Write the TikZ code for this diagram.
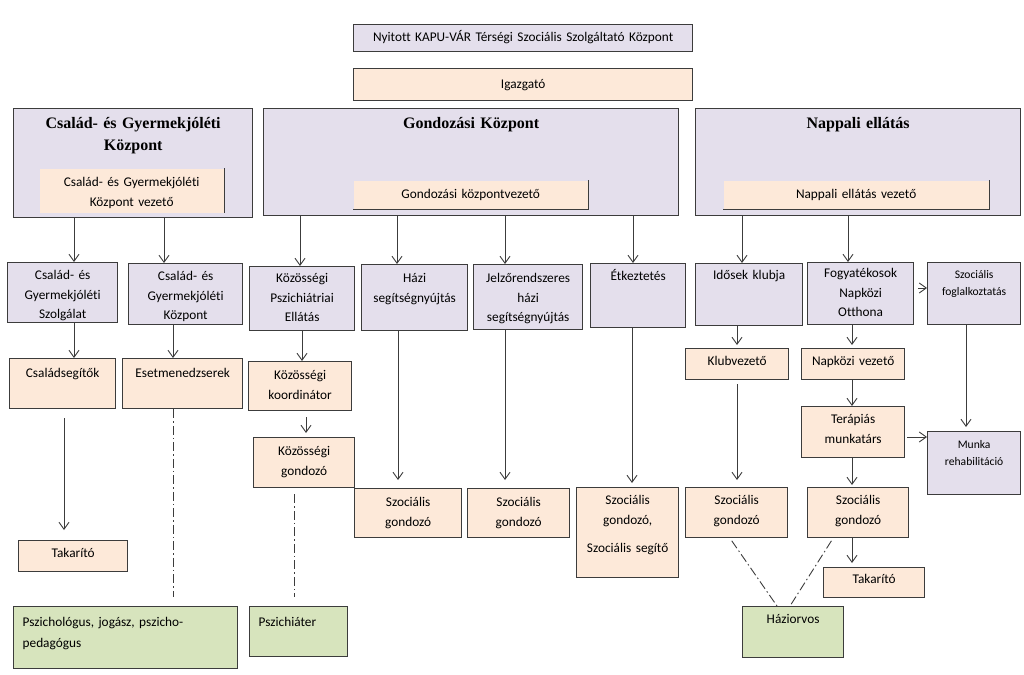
\documentclass[tikz,border=0pt]{standalone}
\usepackage{fontspec}
\setmainfont{Carlito}[Ligatures={NoCommon}]
\newfontfamily\tnr{Liberation Serif}
\usetikzlibrary{arrows.meta}
\definecolor{lav}{HTML}{E4DFEC}
\definecolor{peach}{HTML}{FDE9D9}
\definecolor{grn}{HTML}{D7E4BD}
\definecolor{edge}{HTML}{3C3C3C}
\newcommand{\txt}{\fontsize{13.3}{19.5}\selectfont}
\newcommand{\smalltxt}{\fontsize{11.6}{17}\selectfont}
\newcommand{\ttl}{\tnr\bfseries\fontsize{16}{22}\selectfont}
\tikzset{
  sz/.code n args={3}{\pgfmathsetmacro\bxdep{#2-#3}\tikzset{text width=#1pt, text height=#3pt, text depth=\bxdep pt}},
  unit/.style={anchor=north west, inner sep=0pt, align=center, font=\txt, draw=edge, line width=1.3pt},
  lavbox/.style={unit, fill=lav},
  peachbox/.style={unit, fill=peach},
  greenbox/.style={unit, fill=grn, align=left, inner xsep=9pt},
  headbox/.style={unit, draw=none, fill=peach},
  rim/.style={draw=edge, line width=1.3pt},
  arr/.style={draw=edge, line width=0.9pt, -{Straight Barb[length=7pt,width=10pt]}},
  dd/.style={draw=edge, line width=0.9pt, dash pattern=on 9pt off 3pt on 1.5pt off 3pt}
}

\begin{document}
\begin{tikzpicture}[x=1pt,y=-1pt]
\useasboundingbox (0,0) rectangle (1024,674);

% top
\node[lavbox, sz={339}{27}{17}] (kozpont) at (353,24) {Nyitott KAPU-VÁR Térségi Szociális Szolgáltató Központ};
\node[peachbox, sz={339}{32}{20}] (igaz) at (353,68) {Igazgató};

% three units
\node[lavbox, font=\ttl, sz={239}{109}{20}] (cgk) at (13,108) {Család- és Gyermekjóléti\\Központ};
\node[headbox, sz={184}{44}{18}] (cgkv) at (39,168) {Család- és Gyermekjóléti\\Központ vezető};
\draw[rim] (cgkv.north east) -- (cgkv.south east);

\node[lavbox, font=\ttl, sz={415}{107}{20}] (gk) at (263,108) {Gondozási Központ};
\node[headbox, sz={234}{28}{18}] (gkv) at (353,180) {Gondozási központvezető};
\draw[rim] (gkv.north east) -- (gkv.south east) -- (gkv.south west);

\node[lavbox, font=\ttl, sz={325}{107}{20}] (ne) at (695,108) {Nappali ellátás};
\node[headbox, sz={265}{28}{18}] (nev) at (723,180) {Nappali ellátás vezető};
\draw[rim] (nev.north east) -- (nev.south east) -- (nev.south west);

% services
\node[lavbox, sz={110}{60}{17}] (cgsz) at (7,262) {Család- és\\Gyermekjóléti\\Szolgálat};
\node[lavbox, sz={114}{61}{17}] (cgkp) at (128,263) {Család- és\\Gyermekjóléti\\Központ};
\node[lavbox, sz={105}{64}{16}] (kpe) at (249,266) {Közösségi\\Pszichiátriai\\Ellátás};
\node[lavbox, sz={106}{66}{18}] (hazi) at (361,264) {Házi\\segítségnyújtás};
\node[lavbox, sz={109}{65}{18}] (jelzo) at (473,264) {Jelzőrendszeres\\házi\\segítségnyújtás};
\node[lavbox, sz={95}{64}{17}] (etk) at (590,263) {Étkeztetés};
\node[lavbox, sz={107}{62}{16}] (idk) at (695,263) {Idősek klubja};
\node[lavbox, sz={106}{62}{15}] (fno) at (807,262) {Fogyatékosok\\Napközi\\Otthona};
\node[lavbox, font=\smalltxt, sz={93}{62}{16}] (szf) at (927,262) {Szociális\\foglalkoztatás};

% staff
\node[peachbox, sz={106}{50}{19}] (csseg) at (9,358) {Családsegítők};
\node[peachbox, sz={120}{50}{19}] (esetm) at (122,358) {Esetmenedzserek};
\node[peachbox, sz={103}{49}{18}] (kkoord) at (248,361) {Közösségi\\koordinátor};
\node[peachbox, sz={101}{50}{18}] (kgond) at (253,437) {Közösségi\\gondozó};
\node[peachbox, sz={109}{31}{17}] (tak1) at (18,540) {Takarító};
\node[peachbox, sz={107}{49}{18}] (szg1) at (354,488) {Szociális\\gondozó};
\node[peachbox, sz={102}{49}{18}] (szg2) at (467,488) {Szociális\\gondozó};
\node[peachbox, sz={102}{90}{17}] (szg3) at (576,487) {Szociális\\gondozó,\\[9pt]Szociális segítő};
\node[peachbox, sz={103}{31}{17}] (klubv) at (685,348) {Klubvezető};
\node[peachbox, sz={103}{31}{17}] (napv) at (801,348) {Napközi vezető};
\node[peachbox, sz={103}{51}{17}] (terap) at (801,406) {Terápiás\\munkatárs};
\node[lavbox, font=\smalltxt, sz={93}{63}{17}] (munka) at (927,431) {Munka\\rehabilitáció};
\node[peachbox, sz={102}{50}{17}] (szg4) at (685,487) {Szociális\\gondozó};
\node[peachbox, sz={101}{50}{17}] (szg5) at (807,487) {Szociális\\gondozó};
\node[peachbox, sz={101}{30}{16}] (tak2) at (823,567) {Takarító};

% outside partners
\node[greenbox, sz={206}{62}{20}, font=\fontsize{13.3}{21}\selectfont] (pszj) at (13,606) {Pszichológus, jogász, pszicho-\\pedagógus};
\node[greenbox, sz={80}{50}{20}] (pszi) at (249,606) {Pszichiáter};
\node[greenbox, align=center, inner xsep=0pt, sz={101}{51}{17}] (haziorv) at (742,606) {Háziorvos};

% arrows from the units
\draw[arr] (74,0 |- cgk.south) -- (74,0 |- cgsz.north);
\draw[arr] (164,0 |- cgk.south) -- (164,0 |- cgkp.north);
\draw[arr] (300,0 |- gk.south) -- (300,0 |- kpe.north);
\draw[arr] (397,0 |- gk.south) -- (397,0 |- hazi.north);
\draw[arr] (505,0 |- gk.south) -- (505,0 |- jelzo.north);
\draw[arr] (633,0 |- gk.south) -- (633,0 |- etk.north);
\draw[arr] (742,0 |- ne.south) -- (742,0 |- idk.north);
\draw[arr] (848,0 |- ne.south) -- (848,0 |- fno.north);
\draw[arr, shorten <=4pt] (fno.east |- 0,288) -- (szf.west |- 0,288);

% arrows to the staff
\draw[arr] (74,0 |- cgsz.south) -- (74,0 |- csseg.north);
\draw[arr] (173,0 |- cgkp.south) -- (173,0 |- esetm.north);
\draw[arr] (302,0 |- kpe.south) -- (302,0 |- kkoord.north);
\draw[arr, shorten <=6pt, shorten >=4pt] (306,0 |- kkoord.south) -- (306,0 |- kgond.north);
\draw[arr, shorten <=9pt, shorten >=10pt] (64,0 |- csseg.south) -- (64,0 |- tak1.north);
\draw[arr, shorten >=8pt] (398,0 |- hazi.south) -- (398,0 |- szg1.north);
\draw[arr, shorten >=8pt] (505,0 |- jelzo.south) -- (505,0 |- szg2.north);
\draw[arr, shorten >=4pt] (632,0 |- etk.south) -- (632,0 |- szg3.north);
\draw[arr, shorten >=3pt] (737,0 |- idk.south) -- (737,0 |- klubv.north);
\draw[arr, shorten >=3pt] (852,0 |- fno.south) -- (852,0 |- napv.north);
\draw[arr] (852,0 |- napv.south) -- (852,0 |- terap.north);
\draw[arr, shorten >=4pt] (966,0 |- szf.south) -- (966,0 |- munka.north);
\draw[arr, shorten <=2pt] (terap.east |- 0,437) -- (munka.west |- 0,437);
\draw[arr, shorten >=2pt] (852,0 |- terap.south) -- (852,0 |- szg5.north);
\draw[arr, shorten <=4pt, shorten >=7pt] (737,0 |- klubv.south) -- (737,0 |- szg4.north);
\draw[arr, shorten >=4pt] (852,0 |- szg5.south) -- (852,0 |- tak2.north);

% dash-dot links
\draw[dd, shorten >=9pt] (173,0 |- esetm.south) -- (173,0 |- pszj.north);
\draw[dd, shorten <=6pt, shorten >=9pt] (294,0 |- kgond.south) -- (294,0 |- pszi.north);
\draw[dd, shorten <=3pt] (730,0 |- szg4.south) -- (777,0 |- haziorv.north);
\draw[dd, shorten <=3pt] (833,0 |- szg5.south) -- (790,0 |- haziorv.north);
\end{tikzpicture}
\end{document}
